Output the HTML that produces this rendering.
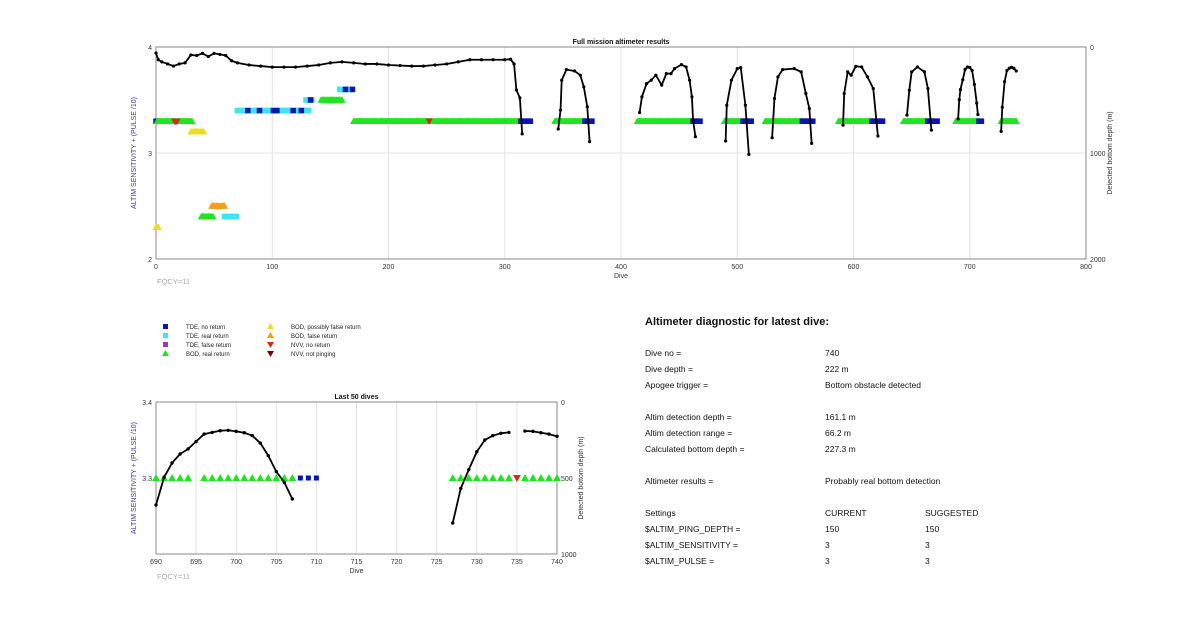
<!DOCTYPE html>
<html><head><meta charset="utf-8"><style>
body{margin:0;background:#fff;}
svg{display:block;font-family:"Liberation Sans",sans-serif;}
</style></head><body>
<svg id="s" width="1200" height="622" viewBox="0 0 1200 622" xmlns="http://www.w3.org/2000/svg">
<g id="top"></g>
<g id="bot"></g>
<g font-size="6" fill="#222">
  <rect x="163" y="324" width="5" height="5" fill="#0a14b4"/>
  <text x="186" y="329">TDE, no return</text>
  <rect x="163" y="333" width="5" height="5" fill="#3ce6f0"/>
  <text x="186" y="338">TDE, real return</text>
  <rect x="163" y="342" width="5" height="5" fill="#8a3cd2"/>
  <text x="186" y="347">TDE, false return</text>
  <polygon points="165.5,350 162,356 169,356" fill="#1ee61e"/>
  <text x="186" y="356">BOD, real return</text>
  <polygon points="270.5,323 267,329 274,329" fill="#f0dc1e"/>
  <text x="291" y="329">BOD, possibly false return</text>
  <polygon points="270.5,332 267,338 274,338" fill="#f0a01e"/>
  <text x="291" y="338">BOD, false return</text>
  <polygon points="267,342 274,342 270.5,348" fill="#d2281e"/>
  <text x="291" y="347">NVV, no return</text>
  <polygon points="267,351 274,351 270.5,357" fill="#6e0a0a"/>
  <text x="291" y="356">NVV, not pinging</text>
</g>
<g font-size="8.5" fill="#111">
  <text x="645" y="325" font-size="11" font-weight="bold">Altimeter diagnostic for latest dive:</text>
  <text x="645" y="356">Dive no =</text><text x="825" y="356">740</text>
  <text x="645" y="372">Dive depth =</text><text x="825" y="372">222 m</text>
  <text x="645" y="388">Apogee trigger =</text><text x="825" y="388">Bottom obstacle detected</text>
  <text x="645" y="420">Altim detection depth =</text><text x="825" y="420">161.1 m</text>
  <text x="645" y="436">Altim detection range =</text><text x="825" y="436">66.2 m</text>
  <text x="645" y="452">Calculated bottom depth =</text><text x="825" y="452">227.3 m</text>
  <text x="645" y="484">Altimeter results =</text><text x="825" y="484">Probably real bottom detection</text>
  <text x="645" y="516">Settings</text><text x="825" y="516">CURRENT</text><text x="925" y="516">SUGGESTED</text>
  <text x="645" y="532">$ALTIM_PING_DEPTH =</text><text x="825" y="532">150</text><text x="925" y="532">150</text>
  <text x="645" y="548">$ALTIM_SENSITIVITY =</text><text x="825" y="548">3</text><text x="925" y="548">3</text>
  <text x="645" y="564">$ALTIM_PULSE =</text><text x="825" y="564">3</text><text x="925" y="564">3</text>
</g>
</svg>
<script>
// ---- Full mission data ----
const topSegDives = [
 [0,2,5,10,15,20,25,30,35,40,45,50,55,60,65,70,80,90,100,110,120,130,140,150,160,170,180,190,200,210,220,230,240,250,260,270,280,290,300,305,308,310,313,315],
 [346,348,349,353,360,365,368,371,373],
 [416,418,422,426,430,435,439,443,446,452,456,459,461,462,464],
 [490,491,495,500,503,507,510],
 [530,532,535,539,549,555,559,562,564],
 [591,592,595,598,602,607,612,617,621],
 [646,648,650,655,661,664,667],
 [690,691,692,694,696,698,700,702,704,706,707],
 [727,728,730,732,734,736,738,740]
];
const topSegDepths = [
 [57,120,140,160,180,160,150,75,80,60,90,60,70,80,130,150,170,180,190,190,190,180,170,150,140,150,160,160,170,175,180,180,170,160,140,120,120,120,120,115,160,405,480,820],
 [774,596,313,213,226,266,376,564,893],
 [618,470,345,313,266,360,251,251,204,166,188,313,470,690,846],
 [887,549,313,204,194,549,1013],
 [856,486,282,213,204,235,439,580,909],
 [737,439,235,266,182,188,282,392,840],
 [643,408,235,188,235,392,784],
 [678,496,401,309,211,189,193,221,353,529,638],
 [796,568,327,221,200,191,202,226]
];
// marker runs: start dive, end dive, level value, type
const runStart = [0,1,16,30,0,39,48,59,70,79,89,101,104,118,125,129,133,142,158,163,169,170,314,343,369,414,462,489,505,524,556,587,616,643,664,688,708,727,235];
const runEnd   = [0,31,18,41,2,49,59,69,131,79,89,101,104,118,125,134,133,160,168,163,169,313,322,369,375,462,468,505,512,556,565,616,625,664,672,707,710,740,235];
const runLevel = [3.3,3.3,3.3,3.2,2.3,2.4,2.5,2.4,3.4,3.4,3.4,3.4,3.4,3.4,3.4,3.5,3.5,3.5,3.6,3.6,3.6,3.3,3.3,3.3,3.3,3.3,3.3,3.3,3.3,3.3,3.3,3.3,3.3,3.3,3.3,3.3,3.3,3.3,3.3];
const runType  = ['tde','bod','nvv','pf','pf','bod','ff','real','real','tde','tde','tde','tde','tde','tde','real','tde','bod','real','tde','tde','bod','tde','bod','tde','bod','tde','bod','tde','bod','tde','bod','tde','bod','tde','bod','tde','bod','nvv'];
// ---- Last 50 dives data ----
const botSegDives = [[690,691,692,693,694,695,696,697,698,699,700,701,702,703,704,705,706,707],[727,728,729,730,731,732,733,734],[736,737,738,739,740]];
const botSegDepths = [[678,496,401,342,309,260,211,200,189,186,193,202,221,270,353,458,529,638],[796,568,445,327,250,221,206,200],[191,193,202,211,226]];
const botGreen = [690,691,692,693,694,696,697,698,699,700,701,702,703,704,705,706,707,727,728,729,730,731,732,733,734,736,737,738,739,740];
const botBlue = [708,709,710];
const botRed = [735];
const topXTicks = [0,100,200,300,400,500,600,700,800];
const topYTicks = [2,3,4];
const topRTicks = [0,1000,2000];
const botXTicks = [690,695,700,705,710,715,720,725,730,735,740];
const botYTicks = [3.2,3.3,3.4];
const botYTickLabels = ['','3.3','3.4'];
const botRTicks = [0,500,1000];

const NS='http://www.w3.org/2000/svg';
function mk(parent,tag,attrs){const e=document.createElementNS(NS,tag);for(const k in attrs)e.setAttribute(k,attrs[k]);parent.appendChild(e);return e;}
const colors={tde:'#0a14b4',real:'#3ce6f0',bod:'#1ee61e',pf:'#f0dc1e',ff:'#f0a01e',nvv:'#d2281e'};

function axes(g,L,R,T,B,xT,xLab,yT,yLab,rT,xs,ys,rs,title,lab,showGridY){
  for(const v of xT){const x=xs(v);
    if(x>L+1&&x<R-1){const gl=mk(g,'line',{x1:x,x2:x,y1:T,y2:B,stroke:'#e3e3e3','stroke-width':1});
      }
    const t=mk(g,'text',{x:x,y:B+10,'font-size':7,'text-anchor':'middle',fill:'#333'});t.textContent=xLab(v);
    }
  yT.forEach((v,i)=>{const y=ys(v);
    if(showGridY&&y>T+1&&y<B-1){const gl=mk(g,'line',{x1:L,x2:R,y1:y,y2:y,stroke:'#e3e3e3'});
      }
    const t=mk(g,'text',{x:L-4,y:y+3,'font-size':7,'text-anchor':'end',fill:'#333'});t.textContent=yLab(v,i);
    });
  for(const v of rT){const t=mk(g,'text',{x:R+4,y:rs(v)+3,'font-size':7,fill:'#333'});t.textContent=v;
    }
  const box=mk(g,'rect',{x:L,y:T,width:R-L,height:B-T,fill:'none',stroke:'#8a8a8a','stroke-width':1});
  
  const tt=mk(g,'text',{x:(L+R)/2,y:T-3,'font-size':7,'font-weight':'bold','text-anchor':'middle',fill:'#111'});tt.textContent=title;
  
  const xl=mk(g,'text',{x:(L+R)/2,y:B+19,'font-size':7,'text-anchor':'middle',fill:'#333'});xl.textContent='Dive';
  
  const yl=mk(g,'text',{x:0,y:0,'font-size':7,'text-anchor':'middle',fill:'#3a3ab0',transform:`translate(${L-20},${(T+B)/2}) rotate(-90)`});yl.textContent='ALTIM SENSITIVITY + (PULSE /10)';
  
  const rl=mk(g,'text',{x:0,y:0,'font-size':7,'text-anchor':'middle',fill:'#333',transform:`translate(${R+26},${(T+B)/2}) rotate(-90)`});rl.textContent='Detected bottom depth (m)';
  
  const fq=mk(g,'text',{x:L+1,y:B+25,'font-size':7.5,fill:'#aaa'});fq.textContent='FQCY=11';
  
}
function marker(g,type,x,y,s){
  let e;
  if(type==='tde'||type==='real'){e=mk(g,'rect',{x:x-s/2,y:y-s/2,width:s,height:s,fill:colors[type]});}
  else if(type==='nvv'){e=mk(g,'polygon',{points:`${x-s*0.65},${y-s/2} ${x+s*0.65},${y-s/2} ${x},${y+s/2+1}`,fill:colors[type]});}
  else{e=mk(g,'polygon',{points:`${x},${y-s/2-1} ${x-s*0.65},${y+s/2} ${x+s*0.65},${y+s/2}`,fill:colors[type]});}
  
  
}
function lines(g,dives,depths,xs,rs,sw,ms){
  dives.forEach((ds,i)=>{
    const pts=ds.map((d,j)=>xs(d)+','+rs(depths[i][j])).join(' ');
    const pl=mk(g,'polyline',{points:pts,fill:'none',stroke:'#000','stroke-width':sw,'stroke-linejoin':'round'});
    
    ds.forEach((d,j)=>{const c=mk(g,'circle',{cx:xs(d),cy:rs(depths[i][j]),r:ms,fill:'#000'});
      });
  });
}
// Top chart
(function(){
  const g=document.getElementById('top');
  const L=156,R=1086,T=47,B=259;
  const xs=d=>L+(d-0)/800*(R-L), ys=v=>B-(v-2)/2*(B-T), rs=m=>T+m/2000*(B-T);
  axes(g,L,R,T,B,topXTicks,v=>v,topYTicks,v=>v,topRTicks,xs,ys,rs,'Full mission altimeter results',true,true);
  const mg=mk(g,'g',{});
  runStart.forEach((s,i)=>{for(let d=s;d<=runEnd[i];d++)marker(mg,runType[i],xs(d),ys(runLevel[i]),5.5);});
  lines(g,topSegDives,topSegDepths,xs,rs,1.8,1.6);
})();
// Bottom chart
(function(){
  const g=document.getElementById('bot');
  const L=156,R=557,T=402,B=554;
  const xs=d=>L+(d-690)/50*(R-L), ys=v=>B-(v-3.2)/0.2*(B-T), rs=m=>T+m/1000*(B-T);
  axes(g,L,R,T,B,botXTicks,v=>v,botYTicks,(v,i)=>botYTickLabels[i],botRTicks,xs,ys,rs,'Last 50 dives',true,false);
  for(const d of botGreen)marker(g,'bod',xs(d),ys(3.3),6);
  for(const d of botBlue)marker(g,'tde',xs(d),ys(3.3),5);
  for(const d of botRed)marker(g,'nvv',xs(d),ys(3.3),6);
  lines(g,botSegDives,botSegDepths,xs,rs,1.8,1.7);
})();
</script>
</body></html>
